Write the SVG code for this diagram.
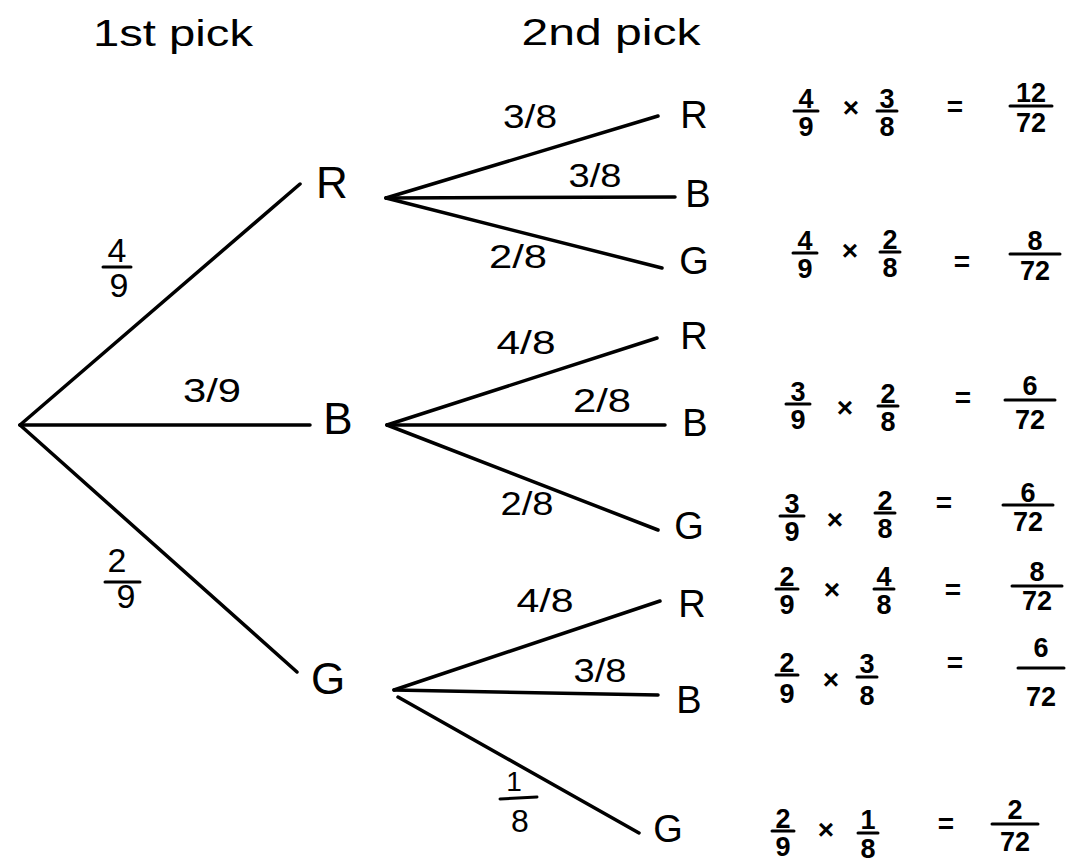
<svg xmlns="http://www.w3.org/2000/svg" width="1078" height="866" viewBox="0 0 1078 866">
<style>
text{font-family:"Liberation Sans","DejaVu Sans",sans-serif;fill:#000;text-anchor:middle}
.hd{font-size:36px}
.n1{font-size:44px}
.n2{font-size:38px}
.lb{font-size:34px}
.fr{font-size:27px;font-weight:bold}
.op{font-size:28px;font-weight:bold}
line{stroke:#000;stroke-width:3.5;stroke-linecap:round}
.bar{stroke-width:3}
</style>
<rect width="1078" height="866" fill="#fff"/>
<g id="headings">
<text class="hd" x="173" y="46" textLength="160" lengthAdjust="spacingAndGlyphs">1st pick</text>
<text class="hd" x="611" y="45" textLength="179" lengthAdjust="spacingAndGlyphs">2nd pick</text>
</g>
<g id="connectors">
<line x1="20" y1="425" x2="300" y2="184"/>
<line x1="20" y1="425" x2="310" y2="425"/>
<line x1="20" y1="425" x2="297" y2="672"/>
<line x1="386" y1="198" x2="658" y2="116"/>
<line x1="386" y1="198" x2="675" y2="197"/>
<line x1="386" y1="198" x2="662" y2="268"/>
<line x1="387" y1="425" x2="657" y2="338"/>
<line x1="387" y1="425" x2="665" y2="425"/>
<line x1="387" y1="425" x2="658" y2="530"/>
<line x1="394" y1="690" x2="660" y2="601"/>
<line x1="394" y1="690" x2="658" y2="695"/>
<line x1="398" y1="697" x2="639" y2="833"/>
</g>
<g id="edge-labels">
<text class="lb" x="117" y="262">4</text><line class="bar" x1="103" y1="267" x2="131" y2="267"/><text class="lb" x="119" y="297">9</text>
<text class="lb" x="212" y="402" textLength="58" lengthAdjust="spacingAndGlyphs">3/9</text>
<text class="lb" x="117" y="572">2</text><line class="bar" x1="105" y1="582" x2="140" y2="582"/><text class="lb" x="126" y="608">9</text>
<text class="lb" x="530" y="128" textLength="54" lengthAdjust="spacingAndGlyphs">3/8</text>
<text class="lb" x="595" y="187" textLength="53" lengthAdjust="spacingAndGlyphs">3/8</text>
<text class="lb" x="518" y="268" textLength="58" lengthAdjust="spacingAndGlyphs">2/8</text>
<text class="lb" x="526" y="354" textLength="59" lengthAdjust="spacingAndGlyphs">4/8</text>
<text class="lb" x="602" y="412" textLength="58" lengthAdjust="spacingAndGlyphs">2/8</text>
<text class="lb" x="527" y="515" textLength="53" lengthAdjust="spacingAndGlyphs">2/8</text>
<text class="lb" x="545" y="612" textLength="57" lengthAdjust="spacingAndGlyphs">4/8</text>
<text class="lb" x="600" y="682" textLength="53" lengthAdjust="spacingAndGlyphs">3/8</text>
<text class="lb" x="514" y="791" style="font-size:28px">1</text><line class="bar" x1="500" y1="799" x2="537" y2="797"/><text class="lb" x="520" y="832" style="font-size:32px">8</text>
</g>
<g id="node-R"><text class="n1" x="332" y="198">R</text></g>
<g id="node-B"><text class="n1" x="338" y="434">B</text></g>
<g id="node-G"><text class="n1" x="328" y="694">G</text></g>
<g id="node-RR"><text class="n2" x="694" y="128">R</text></g>
<g id="node-RB"><text class="n2" x="698" y="207">B</text></g>
<g id="node-RG"><text class="n2" x="694" y="274">G</text></g>
<g id="node-BR"><text class="n2" x="694" y="349">R</text></g>
<g id="node-BB"><text class="n2" x="695" y="436">B</text></g>
<g id="node-BG"><text class="n2" x="689" y="539">G</text></g>
<g id="node-GR"><text class="n2" x="692" y="617">R</text></g>
<g id="node-GB"><text class="n2" x="689" y="713">B</text></g>
<g id="node-GG"><text class="n2" x="668" y="842">G</text></g>
<g id="products">
<text class="fr" x="806" y="108">4</text><line class="bar" x1="794" y1="111" x2="818" y2="111"/><text class="fr" x="806" y="136">9</text>
<text class="op" x="851" y="117">×</text>
<text class="fr" x="887" y="108">3</text><line class="bar" x1="877" y1="111" x2="897" y2="111"/><text class="fr" x="887" y="136">8</text>
<text class="op" x="955" y="116">=</text>
<text class="fr" x="1031" y="102">12</text><line class="bar" x1="1010" y1="106" x2="1052" y2="106"/><text class="fr" x="1031" y="132">72</text>
<text class="fr" x="805" y="250">4</text><line class="bar" x1="793" y1="253" x2="817" y2="253"/><text class="fr" x="805" y="278">9</text>
<text class="op" x="850" y="260">×</text>
<text class="fr" x="890" y="249">2</text><line class="bar" x1="880" y1="252" x2="900" y2="252"/><text class="fr" x="890" y="277">8</text>
<text class="op" x="962" y="271">=</text>
<text class="fr" x="1035" y="250">8</text><line class="bar" x1="1010" y1="254" x2="1060" y2="254"/><text class="fr" x="1035" y="280">72</text>
<text class="fr" x="798" y="401">3</text><line class="bar" x1="786" y1="404" x2="810" y2="404"/><text class="fr" x="798" y="429">9</text>
<text class="op" x="845" y="417">×</text>
<text class="fr" x="888" y="403">2</text><line class="bar" x1="878" y1="406" x2="898" y2="406"/><text class="fr" x="888" y="431">8</text>
<text class="op" x="963" y="407">=</text>
<text class="fr" x="1030" y="395">6</text><line class="bar" x1="1005" y1="400" x2="1055" y2="400"/><text class="fr" x="1030" y="429">72</text>
<text class="fr" x="792" y="513">3</text><line class="bar" x1="780" y1="516" x2="804" y2="516"/><text class="fr" x="792" y="541">9</text>
<text class="op" x="835" y="529">×</text>
<text class="fr" x="885" y="510">2</text><line class="bar" x1="875" y1="513" x2="895" y2="513"/><text class="fr" x="885" y="538">8</text>
<text class="op" x="944" y="512">=</text>
<text class="fr" x="1028" y="502">6</text><line class="bar" x1="1003" y1="505" x2="1053" y2="505"/><text class="fr" x="1028" y="531">72</text>
<text class="fr" x="787" y="586">2</text><line class="bar" x1="776" y1="589" x2="798" y2="589"/><text class="fr" x="787" y="614">9</text>
<text class="op" x="832" y="599">×</text>
<text class="fr" x="884" y="586">4</text><line class="bar" x1="874" y1="589" x2="894" y2="589"/><text class="fr" x="884" y="614">8</text>
<text class="op" x="953" y="599">=</text>
<text class="fr" x="1037" y="581">8</text><line class="bar" x1="1012" y1="586" x2="1062" y2="586"/><text class="fr" x="1037" y="610">72</text>
<text class="fr" x="787" y="672">2</text><line class="bar" x1="776" y1="675" x2="798" y2="675"/><text class="fr" x="787" y="703">9</text>
<text class="op" x="831" y="689">×</text>
<text class="fr" x="867" y="673">3</text><line class="bar" x1="857" y1="677" x2="877" y2="677"/><text class="fr" x="867" y="705">8</text>
<text class="op" x="955" y="672">=</text>
<text class="fr" x="1041" y="657">6</text><line class="bar" x1="1018" y1="668" x2="1064" y2="668"/><text class="fr" x="1041" y="706">72</text>
<text class="fr" x="783" y="828">2</text><line class="bar" x1="772" y1="831" x2="794" y2="831"/><text class="fr" x="783" y="856">9</text>
<text class="op" x="826" y="839">×</text>
<text class="fr" x="868" y="829">1</text><line class="bar" x1="858" y1="833" x2="878" y2="833"/><text class="fr" x="868" y="858">8</text>
<text class="op" x="946" y="833">=</text>
<text class="fr" x="1015" y="819">2</text><line class="bar" x1="992" y1="824" x2="1038" y2="824"/><text class="fr" x="1015" y="851">72</text>
</g>
</svg>
